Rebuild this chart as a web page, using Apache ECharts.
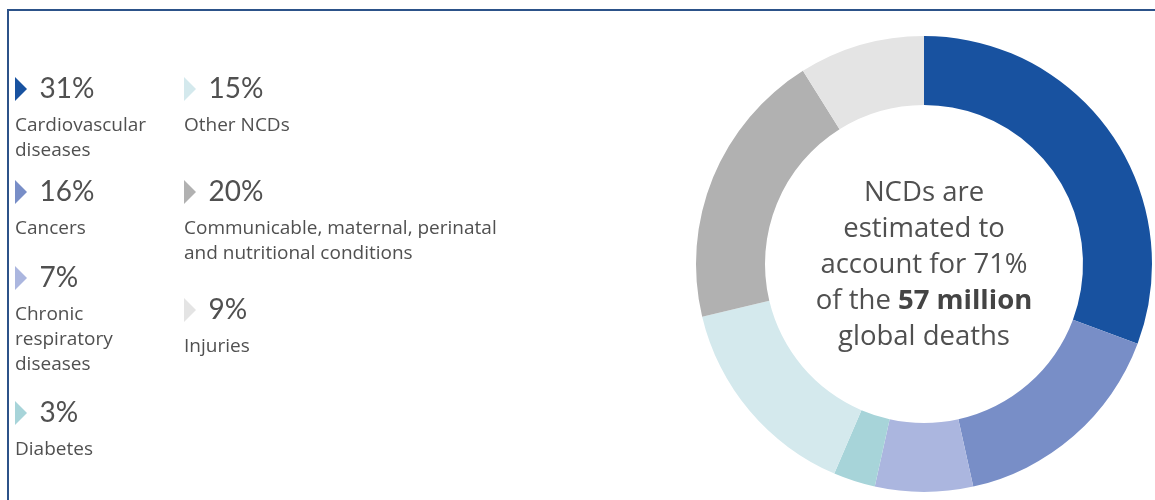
<!DOCTYPE html>
<html>
<head>
<meta charset="utf-8">
<script src="https://cdn.jsdelivr.net/npm/echarts@6/dist/echarts.min.js"></script>
<style>
  html, body { margin: 0; padding: 0; background: #fff; overflow: hidden; }
  #chart { width: 1155px; height: 500px; }
  #frame { position: absolute; left: 7px; top: 9px; width: 1200px; height: 600px;
           border: 2px solid #2c5289; pointer-events: none; }
</style>
</head>
<body>
<div id="chart"></div>
<div id="frame"></div>
<script>
// ---- data ----
const categories = [
  'Cardiovascular diseases',
  'Cancers',
  'Chronic respiratory diseases',
  'Diabetes',
  'Other NCDs',
  'Communicable, maternal, perinatal and nutritional conditions',
  'Injuries'
];
const shares = [31, 16, 7, 3, 15, 20, 9];
const labelLines = [
  ['Cardiovascular', 'diseases'],
  ['Cancers'],
  ['Chronic', 'respiratory', 'diseases'],
  ['Diabetes'],
  ['Other NCDs'],
  ['Communicable, maternal, perinatal', 'and nutritional conditions'],
  ['Injuries']
];
const centerLines = ['NCDs are', 'estimated to', 'account for 71%', 'of the {b|57 million}', 'global deaths'];

// ---- styles / layout ----
const colors = ['#1852a0', '#788ec7', '#abb6df', '#a7d4d9', '#d4e9ed', '#b1b1b1', '#e4e4e4'];
const legendAnchors = [[15, 87], [15, 190], [15, 276], [15, 411], [184, 87], [184, 190], [184, 308]];
const PCT_FONT = 'Lato, "Open Sans", sans-serif';
const FONT = '"Open Sans", Lato, sans-serif';
const TEXT = '#505050';

const chart = echarts.init(document.getElementById('chart'), null, { renderer: 'canvas' });

const legends = categories.map((name, i) => ({
  data: [name],
  left: legendAnchors[i][0],
  top: legendAnchors[i][1] - 12,
  padding: 0,
  orient: 'vertical',
  selectedMode: false,
  icon: 'path://M0,0L10,10L0,20Z',
  itemWidth: 13,
  itemHeight: 24,
  formatter: n => shares[categories.indexOf(n)] + '%',
  textStyle: { fontSize: 28, color: TEXT, fontFamily: PCT_FONT, padding: [0, 0, 0, 7] }
}));

const labelGraphics = labelLines.map((lines, i) => ({
  type: 'text',
  left: legendAnchors[i][0],
  top: legendAnchors[i][1] + 38.5 - 12.5,
  silent: true,
  style: {
    text: lines.join('\n'),
    fontSize: 19,
    lineHeight: 25,
    fill: TEXT,
    fontFamily: FONT
  }
}));

const centerGraphic = {
  type: 'text',
  x: 924,
  y: 265,
  silent: true,
  style: {
    text: centerLines.join('\n'),
    fontSize: 27.5,
    lineHeight: 36,
    fill: TEXT,
    fontFamily: FONT,
    align: 'center',
    verticalAlign: 'middle',
    rich: {
      b: { fontSize: 27.5, lineHeight: 36, fontWeight: 'bold', fill: '#444', fontFamily: FONT }
    }
  }
};

chart.setOption({
  animation: false,
  color: colors,
  legend: legends,
  graphic: labelGraphics.concat([centerGraphic]),
  series: [{
    type: 'pie',
    center: [924, 264],
    radius: [159, 228],
    startAngle: 90,
    clockwise: true,
    label: { show: false },
    labelLine: { show: false },
    emphasis: { disabled: true },
    itemStyle: { borderWidth: 0 },
    data: categories.map((name, i) => ({ name, value: shares[i], itemStyle: { color: colors[i] } }))
  }]
});
</script>
</body>
</html>
